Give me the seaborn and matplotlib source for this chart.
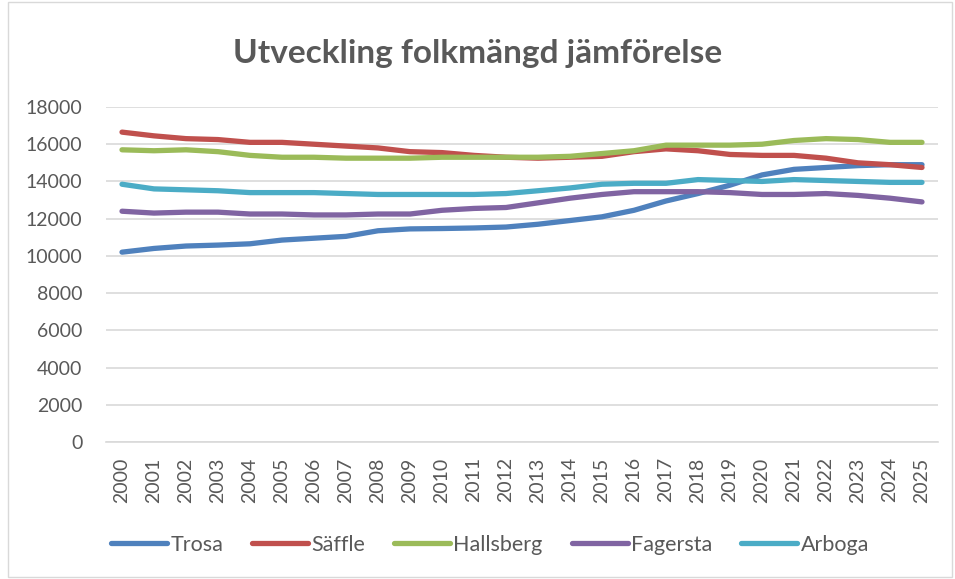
import matplotlib
matplotlib.use("Agg")
import matplotlib.pyplot as plt
import seaborn as sns
import pandas as pd
from matplotlib.patches import Rectangle

years = list(range(2000, 2026))
trosa = [10200, 10400, 10530, 10580, 10650, 10850, 10950, 11050, 11350, 11450, 11470, 11500, 11550,
         11700, 11900, 12100, 12450, 12950, 13350, 13800, 14350, 14650, 14750, 14850, 14900, 14900]
saffle = [16650, 16450, 16300, 16250, 16100, 16100, 16000, 15900, 15800, 15600, 15550, 15400, 15300,
          15250, 15300, 15350, 15600, 15750, 15650, 15450, 15400, 15400, 15250, 15000, 14900, 14750]
hallsberg = [15700, 15650, 15700, 15600, 15400, 15300, 15300, 15250, 15250, 15250, 15300, 15300, 15300,
             15300, 15350, 15500, 15650, 15950, 15950, 15950, 16000, 16200, 16300, 16250, 16100, 16100]
fagersta = [12400, 12300, 12350, 12350, 12250, 12250, 12200, 12200, 12250, 12250, 12450, 12550, 12600,
            12850, 13100, 13300, 13450, 13450, 13450, 13400, 13300, 13300, 13350, 13250, 13100, 12900]
arboga = [13850, 13600, 13550, 13500, 13400, 13400, 13400, 13350, 13300, 13300, 13300, 13300, 13350,
          13500, 13650, 13850, 13900, 13900, 14100, 14050, 14000, 14100, 14050, 14000, 13950, 13950]
series_names = ["Trosa", "Säffle", "Hallsberg", "Fagersta", "Arboga"]
colors = ["#4F81BD", "#C0504D", "#9BBB59", "#8064A2", "#4BACC6"]
title = "Utveckling folkmängd jämförelse"

sns.set_theme(style="white")
plt.rcParams['font.family'] = ['Lato', 'DejaVu Sans']

rows = []
for name, vals in zip(series_names, [trosa, saffle, hallsberg, fagersta, arboga]):
    for i, (y, v) in enumerate(zip(years, vals)):
        rows.append({"idx": i, "Year": str(y), "Kommun": name, "Value": v})
df = pd.DataFrame(rows)

fig = plt.figure(figsize=(9.55, 5.79), dpi=100)
ax = fig.add_axes([106/955, 1 - 442/579, (938-106)/955, (442-107)/579])

sns.lineplot(data=df, x="idx", y="Value", hue="Kommun", palette=dict(zip(series_names, colors)),
             hue_order=series_names, linewidth=3.8, ax=ax, legend=True)
for ln in ax.get_lines():
    ln.set_solid_capstyle("round")
    ln.set_solid_joinstyle("round")

ax.set_xlim(-0.5, len(years) - 0.5)
ax.set_ylim(0, 18000)
ax.set_yticks(range(0, 18001, 2000))
ax.set_yticklabels([str(v) for v in range(0, 18001, 2000)], fontsize=14, color="#595959")
ax.set_xticks(range(len(years)))
ax.set_xticklabels([str(y) for y in years], rotation=90, fontsize=14, color="#595959")
ax.tick_params(axis="y", length=0, pad=17)
ax.tick_params(axis="x", length=0, pad=11)
ax.set_xlabel("")
ax.set_ylabel("")
ax.grid(axis="y", color="#D9D9D9", linewidth=1.2)
ax.set_axisbelow(True)
for s in ["top", "right", "left"]:
    ax.spines[s].set_visible(False)
ax.spines["bottom"].set_color("#D9D9D9")
ax.spines["bottom"].set_linewidth(1.2)

handles, labels = ax.get_legend_handles_labels()
ax.get_legend().remove()
fig.legend(handles, labels, loc="center", bbox_to_anchor=(0.513, 1 - 545/579), ncol=5,
           frameon=False, fontsize=15.5, labelcolor="#595959", handlelength=2.6,
           handletextpad=0.15, columnspacing=1.35)

fig.text(0.5, 1 - 63/579, title, ha="center", va="baseline", fontsize=24, fontweight="bold", color="#595959")

fig.patches.append(Rectangle((0.008, 0.003), 0.989, 0.994, transform=fig.transFigure,
                             fill=False, edgecolor="#D9D9D9", linewidth=1))

fig.savefig("out.png", dpi=100, facecolor="white")
